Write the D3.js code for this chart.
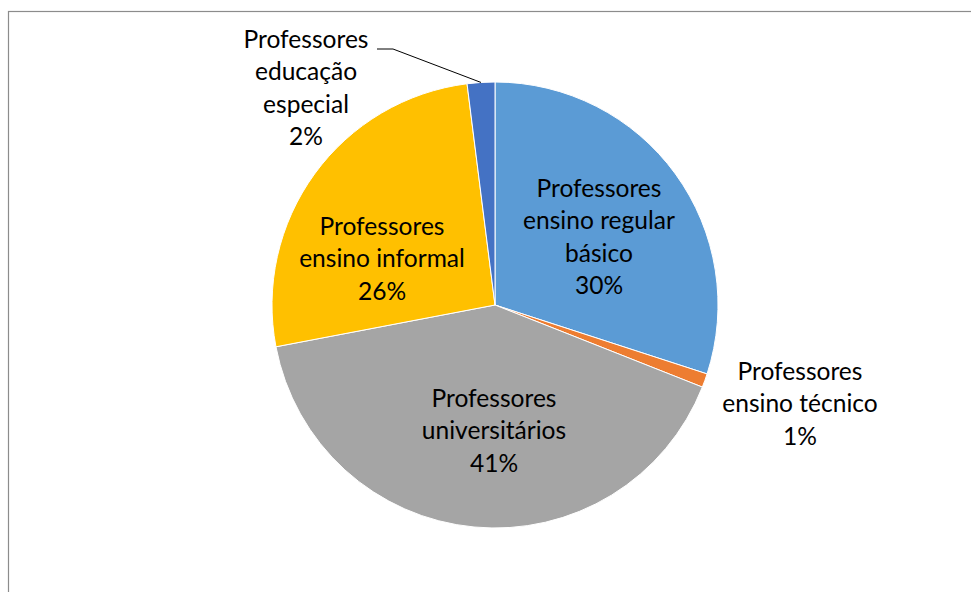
<!DOCTYPE html>
<html>
<head>
<meta charset="utf-8">
<script src="https://cdn.jsdelivr.net/npm/d3@7"></script>
<style>
  html, body { margin: 0; padding: 0; background: #fff; }
  svg { display: block; }
</style>
</head>
<body>
<svg id="chart" width="971" height="592"></svg>
<script>
// Categories and shares (%), clockwise from 12 o'clock
const categories = [
  ["Professores", "ensino regular", "básico"],
  ["Professores", "ensino técnico"],
  ["Professores", "universitários"],
  ["Professores", "ensino informal"],
  ["Professores", "educação", "especial"]
];
const values = [30, 1, 41, 26, 2];
const colors = ["#5B9BD5", "#ED7D31", "#A5A5A5", "#FFC000", "#4472C4"];

// Label anchor (centre of first baseline), relative to pie centre
const labelAnchors = [
  [104, -108],
  [305, 75],
  [-1, 102],
  [-113, -70],
  [-189, -257]
];

const W = 971, H = 592;
const cx = 495, cy = 305, R = 223;
const lineH = 32.4;
const fontFamily = "Lato, 'Open Sans', 'Noto Sans', sans-serif";

const svg = d3.select("#chart");

// Outer chart-area frame (extends past the right/bottom edge)
svg.append("rect")
  .attr("x", 8.5).attr("y", 11.5)
  .attr("width", W + 20).attr("height", H + 20)
  .attr("fill", "none")
  .attr("stroke", "#8c8c8c")
  .attr("stroke-width", 1.2);

// Pick a font size where "Professores" is about 125px wide
const probe = svg.append("text")
  .attr("font-family", fontFamily)
  .attr("font-size", 100)
  .text("Professores");
const probeW = probe.node().getComputedTextLength();
probe.remove();
const fontSize = 100 * 125 / probeW;

const pie = d3.pie().sort(null).value(d => d).startAngle(0).endAngle(2 * Math.PI);
const arcs = pie(values);
const arc = d3.arc().innerRadius(0).outerRadius(R);

const g = svg.append("g").attr("transform", `translate(${cx},${cy})`);

g.selectAll("path.slice")
  .data(arcs)
  .join("path")
  .attr("class", "slice")
  .attr("d", arc)
  .attr("fill", (d, i) => colors[i])
  .attr("stroke", "#fff")
  .attr("stroke-width", 1);

// Leader line for the small "educação especial" slice
const leaderIdx = 4;
{
  const a = arcs[leaderIdx];
  const mid = (a.startAngle + a.endAngle) / 2;
  const ex = R * Math.sin(mid), ey = -R * Math.cos(mid);
  const [lx, ly] = labelAnchors[leaderIdx];
  const sx = lx + 71, sy = ly + 1;
  g.append("path")
    .attr("d", d3.line()([[sx, sy], [sx + 16, sy], [ex, ey]]))
    .attr("fill", "none")
    .attr("stroke", "#000")
    .attr("stroke-width", 1);
}

// Data labels: category lines followed by the percentage
const labels = g.selectAll("text.lbl")
  .data(arcs)
  .join("text")
  .attr("class", "lbl")
  .attr("font-family", fontFamily)
  .attr("font-size", fontSize)
  .attr("fill", "#000")
  .attr("text-anchor", "middle");

labels.each(function (d, i) {
  const t = d3.select(this);
  const [ax, ay] = labelAnchors[i];
  const lines = categories[i].concat([d3.format(".0f")(d.data) + "%"]);
  lines.forEach((s, k) => {
    t.append("tspan")
      .attr("x", ax)
      .attr("y", ay + k * lineH)
      .text(s);
  });
});
</script>
</body>
</html>
